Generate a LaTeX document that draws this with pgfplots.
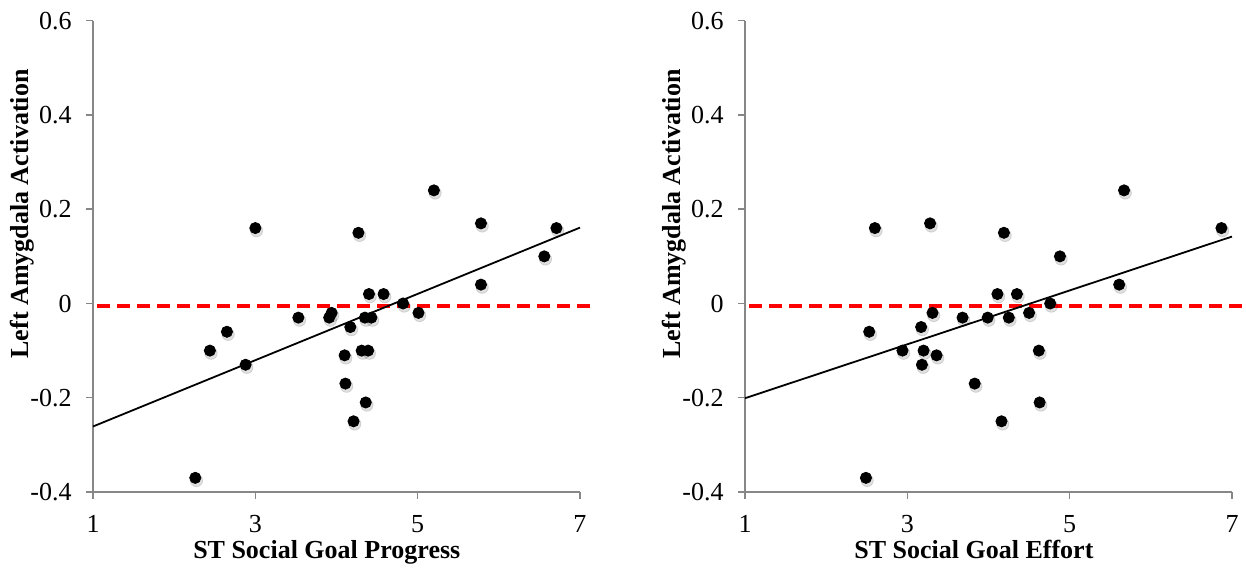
\documentclass[border=0pt]{standalone}
\usepackage{fontspec}
\setmainfont{Liberation Serif}
\usepackage{pgfplots}
\usepackage{pgfplotstable}
\pgfplotsset{compat=1.18}
\definecolor{axisgray}{HTML}{878787}

\pgfplotstableread{
x y
2.26 -0.37
2.44 -0.10
2.65 -0.06
2.88 -0.13
3.00 0.16
3.53 -0.03
3.91 -0.03
3.94 -0.02
4.10 -0.11
4.11 -0.17
4.17 -0.05
4.21 -0.25
4.27 0.15
4.31 -0.10
4.39 -0.10
4.35 -0.03
4.43 -0.03
4.36 -0.21
4.40 0.02
4.58 0.02
4.82 0.00
5.01 -0.02
5.20 0.24
5.78 0.17
5.78 0.04
6.56 0.10
6.71 0.16
}\progress

\pgfplotstableread{
x y
2.49 -0.37
2.53 -0.06
2.60 0.16
2.94 -0.10
3.17 -0.05
3.18 -0.13
3.20 -0.10
3.28 0.17
3.31 -0.02
3.36 -0.11
3.68 -0.03
3.83 -0.17
3.99 -0.03
4.11 0.02
4.16 -0.25
4.19 0.15
4.25 -0.03
4.35 0.02
4.50 -0.02
4.62 -0.10
4.63 -0.21
4.76 0.00
4.88 0.10
5.61 0.04
5.67 0.24
6.87 0.16
}\effort

\pgfplotstableread{
x y
1 -0.261
7 0.161
}\trendA

\pgfplotstableread{
x y
1 -0.201
7 0.142
}\trendB

\pgfplotstableread{
x y
1.05 -0.005
7.16 -0.005
}\zeroA

\pgfplotstableread{
x y
1.05 -0.005
7.25 -0.005
}\zeroB

\pgfplotsset{
  panel/.style={
    scale only axis, width=243.5pt, height=235.65pt,
    xmin=1, xmax=7, ymin=-0.4, ymax=0.6,
    axis x line*=bottom, axis y line*=left,
    axis line style={axisgray, line width=0.75pt, -},
    xtick={1,3,5,7}, xticklabels={1,3,5,7},
    ytick={-0.4,-0.2,0,0.2,0.4,0.6},
    yticklabels={-0.4,-0.2,0,0.2,0.4,0.6},
    tick align=outside, major tick length=3.5pt,
    tick style={axisgray, line width=0.75pt},
    tick label style={font=\fontsize{13}{15}\selectfont},
    yticklabel style={anchor=east, inner sep=0pt, xshift=-7pt},
    xticklabel style={anchor=north, inner sep=0pt, yshift=-8pt},
    label style={font=\fontsize{13}{15}\selectfont\bfseries},
    ylabel style={at={(axis description cs:-0.146,0.59)}, anchor=center},
    clip=false,
  },
  dots/.style={only marks, mark=*, mark size=2.8pt, mark options={fill=black, draw=black}},
  shadow/.style={only marks, mark=*, mark size=3.1pt,
    mark options={fill=black, draw=none, opacity=0.12, xshift=0.6pt, yshift=-1.3pt}},
}

\begin{document}
\begin{tikzpicture}
\useasboundingbox (0,0) rectangle (623pt,286pt);
\begin{axis}[panel, at={(46.5pt,40pt)}, anchor=south west,
  xlabel={ST Social Goal Progress}, ylabel={Left Amygdala Activation},
  xlabel style={at={(axis description cs:0.48,-0.142)}, anchor=base}]
  \addplot[red, line width=1.75pt, dash pattern=on 6.5pt off 3.5pt] table {\zeroA};
  \addplot[shadow] table {\progress};
  \addplot[dots] table {\progress};
  \addplot[black, line width=0.9pt] table {\trendA};
\end{axis}
\begin{axis}[panel, at={(372.5pt,40pt)}, anchor=south west,
  xlabel={ST Social Goal Effort}, ylabel={Left Amygdala Activation},
  xlabel style={at={(axis description cs:0.47,-0.142)}, anchor=base}]
  \addplot[red, line width=1.75pt, dash pattern=on 6.5pt off 3.5pt] table {\zeroB};
  \addplot[shadow] table {\effort};
  \addplot[dots] table {\effort};
  \addplot[black, line width=0.9pt] table {\trendB};
\end{axis}
\end{tikzpicture}
\end{document}
